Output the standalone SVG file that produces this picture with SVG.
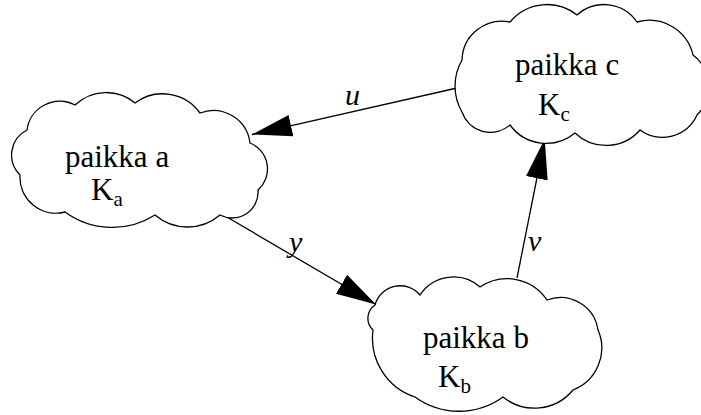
<svg xmlns="http://www.w3.org/2000/svg" width="701" height="415" viewBox="0 0 701 415">
<style>
.cloud{fill:#fff;stroke:#000;stroke-width:1.3}
.conn{stroke:#000;stroke-width:1.3;fill:none}
</style>
<defs>
<marker id="ah" markerUnits="userSpaceOnUse" markerWidth="44" markerHeight="24" refX="40" refY="11" orient="auto">
<path d="M0,0 L40,11 L0,22 Z" fill="#000"/>
</marker>
</defs>
<rect width="701" height="415" fill="#fff"/>
<g id="connectors">
<line class="conn" x1="457" y1="88" x2="252" y2="134.5" marker-end="url(#ah)"/>
<line class="conn" x1="220" y1="213" x2="376" y2="304.5" marker-end="url(#ah)"/>
<line class="conn" x1="517" y1="278" x2="544.7" y2="139" marker-end="url(#ah)"/>
<text x="345" y="105" font-family="Liberation Serif" font-size="30" font-style="italic">u</text>
<text x="289" y="252" font-family="Liberation Serif" font-size="30" font-style="italic">y</text>
<text x="528" y="251" font-family="Liberation Serif" font-size="30" font-style="italic">v</text>
</g>
<g id="node-a">
<path class="cloud" d="M27,130 A33,33 0 0 1 75,105 A45,45 0 0 1 135,103 A46,46 0 0 1 200,113 A37,37 0 0 1 250,143 A28,28 0 0 1 258,190 A26,26 0 0 1 220,215 A50,50 0 0 1 155,215 A80,80 0 0 1 65,212 A36,36 0 0 1 20,175 A28,28 0 0 1 27,130 Z"/>
<text x="65" y="167" font-family="Liberation Serif" font-size="31">paikka a</text>
<text x="91" y="200" font-family="Liberation Serif" font-size="31">K<tspan font-size="21" dy="6">a</tspan></text>
</g>
<g id="node-b">
<path class="cloud" d="M375,305 A26,26 0 0 1 420,295 A40,40 0 0 1 480,287 A48,48 0 0 1 547,300 A38,38 0 0 1 598,330 A45,45 0 0 1 573,390 A50,50 0 0 1 503,397 A75,75 0 0 1 415,397 A62,62 0 0 1 373,330 A16,16 0 0 1 375,305 Z"/>
<text x="423" y="348" font-family="Liberation Serif" font-size="31">paikka b</text>
<text x="438" y="387" font-family="Liberation Serif" font-size="31">K<tspan font-size="21" dy="6">b</tspan></text>
</g>
<g id="node-c">
<path class="cloud" d="M462,60 A40,40 0 0 1 510,22 A48,48 0 0 1 577,15 A40,40 0 0 1 637,22 A45,45 0 0 1 693,55 A40,40 0 0 1 697,115 A38,38 0 0 1 640,130 A45,45 0 0 1 575,133 A45,45 0 0 1 510,125 A30,30 0 0 1 462,112 A52,52 0 0 1 462,60 Z"/>
<text x="515" y="75" font-family="Liberation Serif" font-size="31">paikka c</text>
<text x="538" y="115" font-family="Liberation Serif" font-size="31">K<tspan font-size="21" dy="6">c</tspan></text>
</g>
</svg>
